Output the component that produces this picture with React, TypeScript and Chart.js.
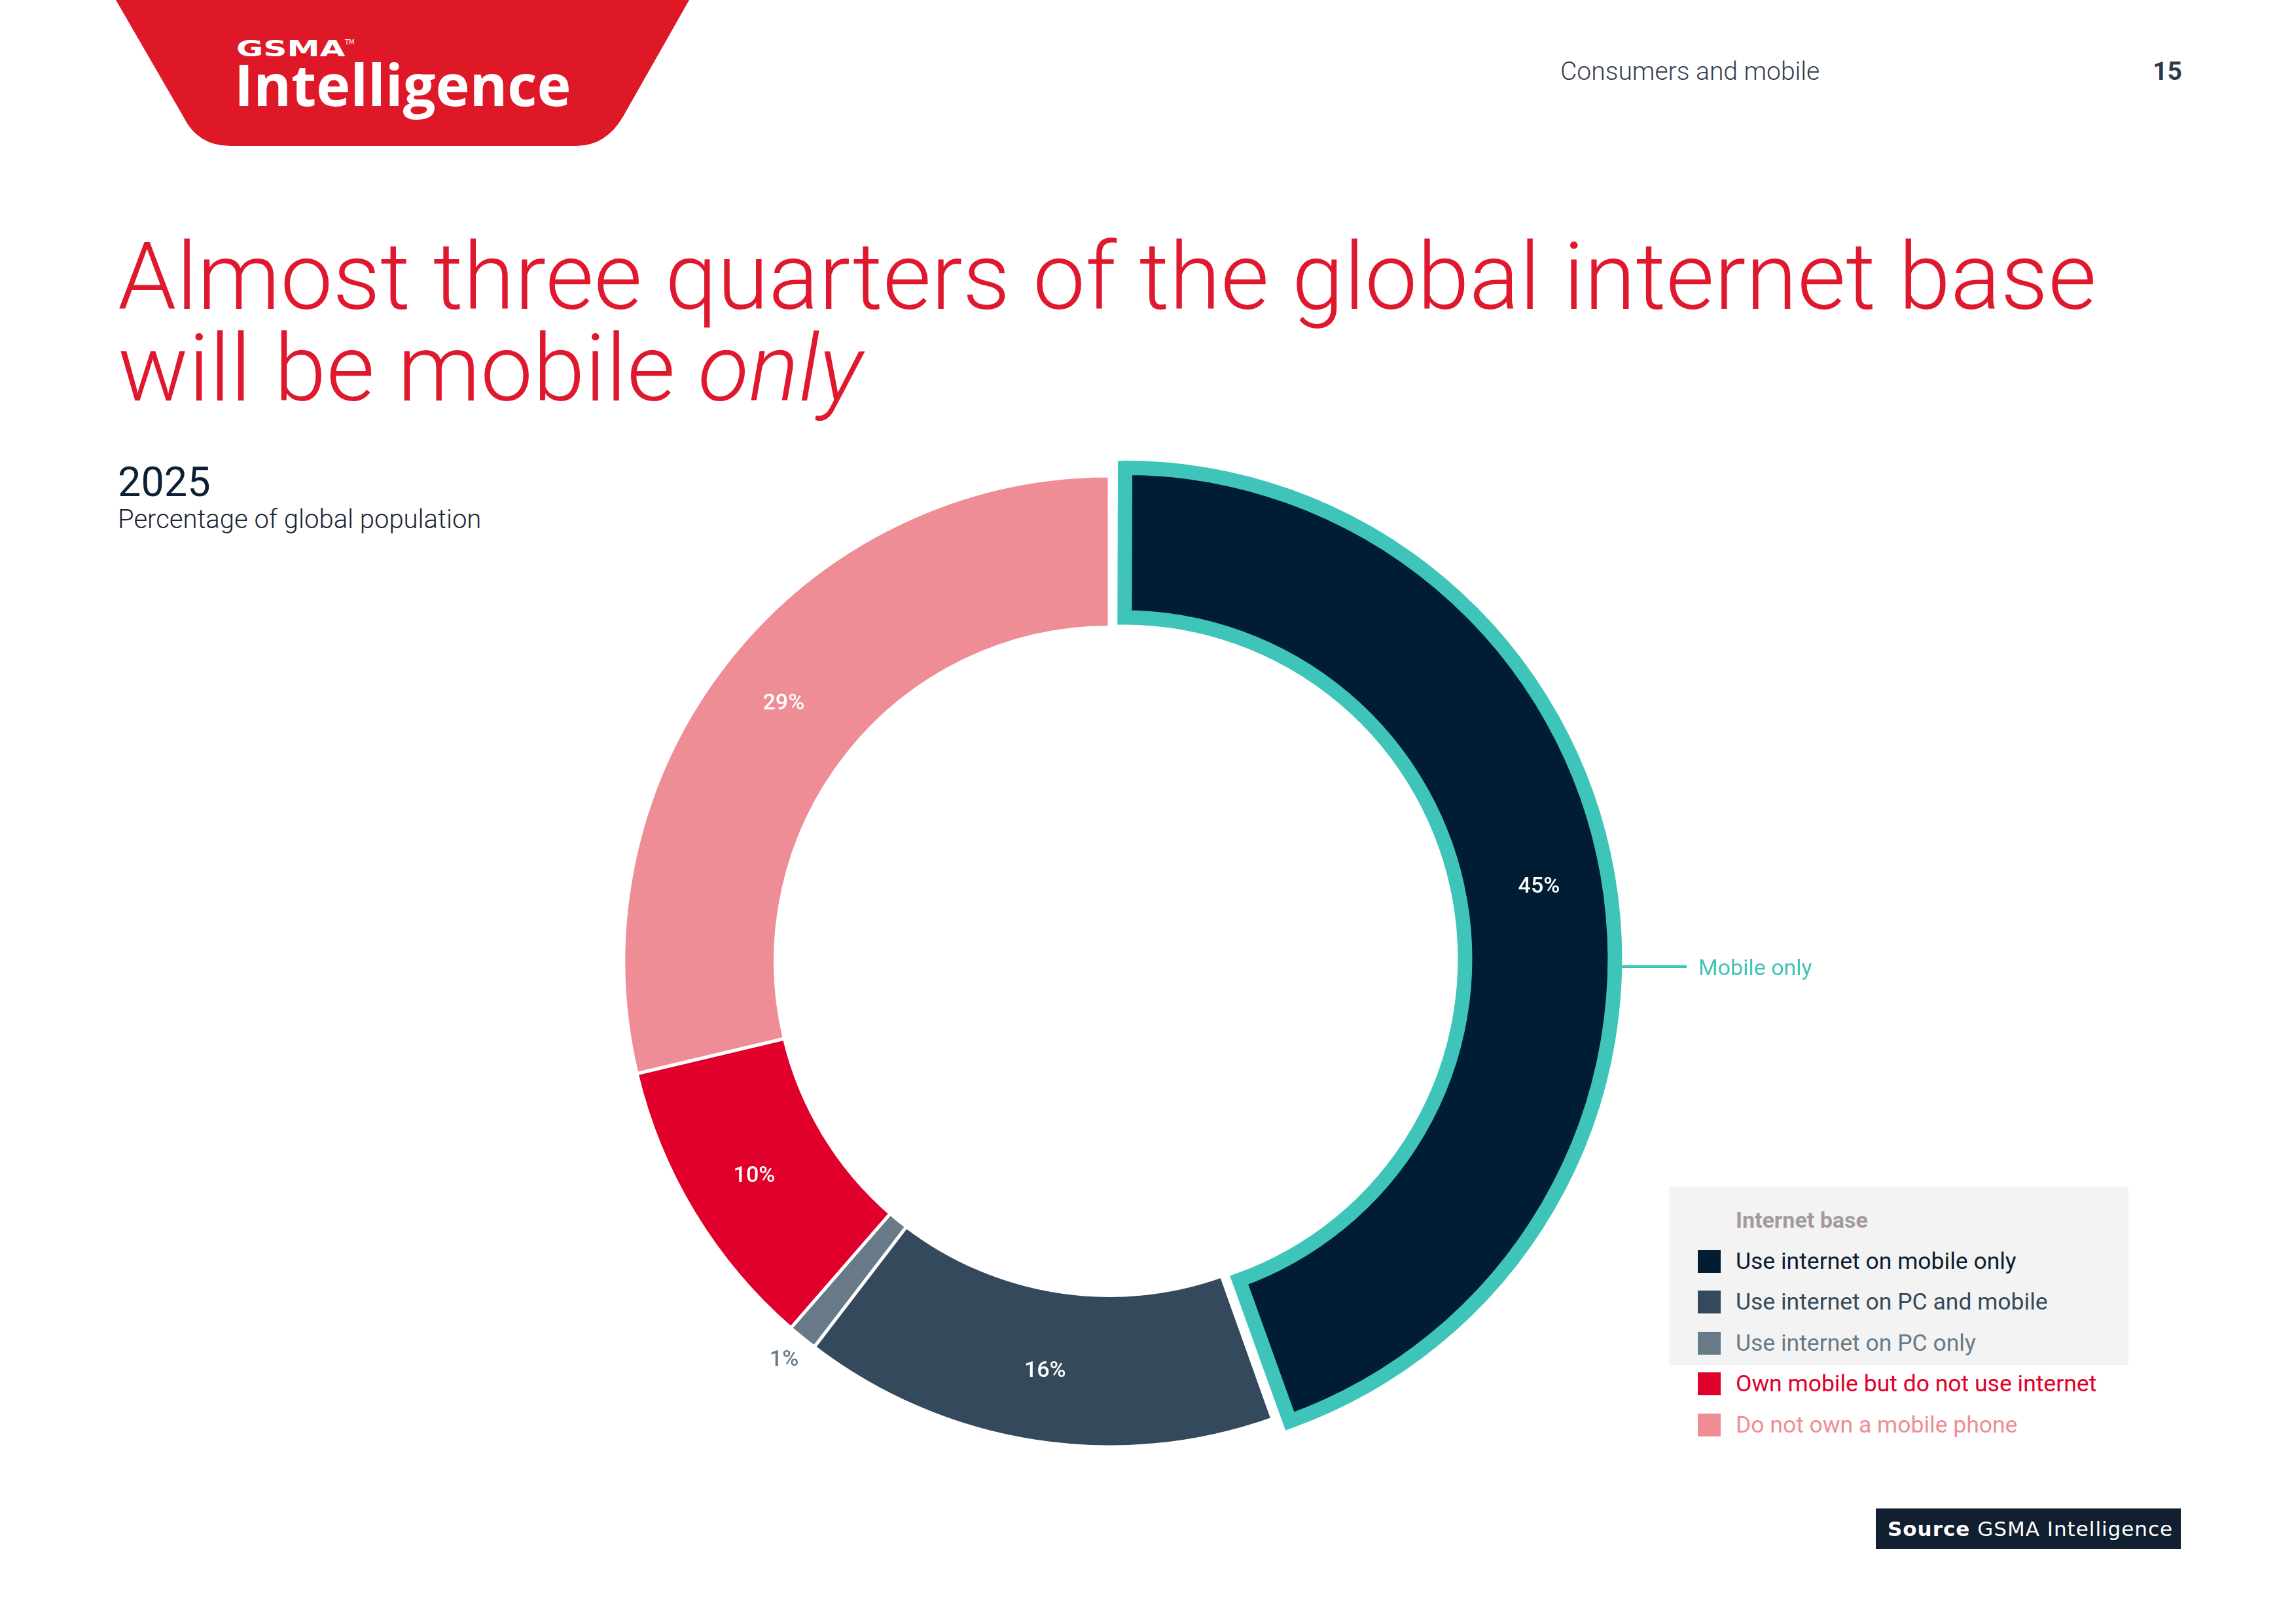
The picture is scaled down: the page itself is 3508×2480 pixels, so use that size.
import React, { useEffect, useRef } from 'react';
import { Chart, registerables } from 'chart.js';

Chart.register(...registerables);

// ---------- data ----------
const categories = [
  'Use internet on mobile only',
  'Use internet on PC and mobile',
  'Use internet on PC only',
  'Own mobile but do not use internet',
  'Do not own a mobile phone',
];
const shares = [45, 16, 1, 10, 29];
const sliceColors = ['#001d33', '#344a5c', '#687a87', '#e0002b', '#ee8d95'];
const legendTextColors = ['#0b1e33', '#344a5c', '#687a87', '#e0002b', '#ee8d95'];
const highlightIndex = 0;
const highlightLabel = 'Mobile only';
const groupTitle = 'Internet base';
const yearLabel = '2025';
const subtitle = 'Percentage of global population';
const titleLine1 = 'Almost three quarters of the global internet base';
const titleLine2 = 'will be mobile ';
const titleItalic = 'only';
const sectionName = 'Consumers and mobile';
const pageNumber = '15';

// ---------- layout constants ----------
const W = 3508;
const H = 2480;
const CX = 1695;
const CY = 1469;
const CAN = 1700;
const TEAL = '#3fc4b9';
const RED = '#e0182d';

const FONT_K: Record<string, number> = { Roboto: 0.842, 'Open Sans': 0.888, 'DejaVu Sans': 0.846 };

function Txt(props: {
  x: number; y: number; size: number; color: string; font?: string; weight?: number;
  align?: 'left' | 'right'; ls?: number; children: React.ReactNode; style?: React.CSSProperties;
}) {
  const font = props.font || 'Roboto';
  const top = props.y - FONT_K[font] * props.size;
  const pos: React.CSSProperties = props.align === 'right' ? { right: W - props.x } : { left: props.x };
  return (
    <div
      style={{
        position: 'absolute', top, ...pos, fontFamily: `"${font}"`, fontSize: props.size,
        lineHeight: `${props.size}px`, color: props.color, fontWeight: props.weight || 400,
        whiteSpace: 'nowrap', letterSpacing: props.ls || 0, ...props.style,
      }}
    >
      {props.children}
    </div>
  );
}

function labelPlugin(indices: number[]) {
  return {
    id: 'sliceLabels',
    afterDatasetsDraw(chart: any) {
      const meta = chart.getDatasetMeta(0);
      const ctx = chart.ctx;
      ctx.save();
      ctx.textAlign = 'center';
      ctx.textBaseline = 'middle';
      meta.data.forEach((arc: any, i: number) => {
        if (!indices.includes(i)) return;
        const p = arc.getProps(['x', 'y', 'startAngle', 'endAngle', 'innerRadius', 'outerRadius', 'circumference'], true);
        const off = (arc.options.offset || 0) / 4;
        const fix = 1 - Math.sin(Math.min(Math.PI, p.circumference));
        const grow = off * fix;
        const h = (p.startAngle + p.endAngle) / 2;
        const small = shares[i] < 3;
        const r = small ? p.outerRadius + grow + 44 : (p.innerRadius + p.outerRadius) / 2 + grow + 8;
        const x = p.x + Math.cos(h) * (off + r);
        const y = p.y + Math.sin(h) * (off + r);
        ctx.font = '500 34px Roboto';
        ctx.fillStyle = small ? sliceColors[i] : '#ffffff';
        ctx.fillText(shares[i] + '%', x, y);
      });
      ctx.restore();
    },
  };
}

function Donut() {
  const refA = useRef<HTMLCanvasElement>(null);
  const refB = useRef<HTMLCanvasElement>(null);
  useEffect(() => {
    const common = {
      responsive: false,
      animation: false as const,
      events: [] as any[],
      layout: { padding: 0 },
      plugins: { legend: { display: false }, tooltip: { enabled: false } },
    };
    const rest = shares.map((_, i) => i).filter((i) => i !== highlightIndex);
    const a = new Chart(refA.current!, {
      type: 'doughnut',
      data: {
        labels: categories,
        datasets: [{
          data: shares,
          backgroundColor: shares.map((_, i) => (i === highlightIndex ? 'rgba(0,0,0,0)' : sliceColors[i])),
          borderColor: '#ffffff',
          borderWidth: shares.map((_, i) => (i === highlightIndex ? 0 : 5)),
        }],
      },
      options: { ...common, radius: 742, cutout: '68.8%' } as any,
      plugins: [labelPlugin(rest)],
    });
    const b = new Chart(refB.current!, {
      type: 'doughnut',
      data: {
        labels: categories,
        datasets: [{
          data: shares,
          backgroundColor: shares.map((_, i) => (i === highlightIndex ? sliceColors[i] : 'rgba(0,0,0,0)')),
          borderColor: TEAL,
          borderWidth: shares.map((_, i) => (i === highlightIndex ? 22 : 0)),
          borderAlign: 'center',
          borderJoinStyle: 'miter',
          offset: shares.map((_, i) => (i === highlightIndex ? 88 : 0)),
        } as any],
      },
      options: { ...common, radius: 736, cutout: '68.9%' } as any,
      plugins: [labelPlugin([highlightIndex])],
    });
    return () => { a.destroy(); b.destroy(); };
  }, []);
  const st: React.CSSProperties = { position: 'absolute', left: CX - CAN / 2, top: CY - CAN / 2, width: CAN, height: CAN };
  return (
    <>
      <canvas ref={refA} width={CAN} height={CAN} style={st} />
      <canvas ref={refB} width={CAN} height={CAN} style={st} />
    </>
  );
}

export default function App() {
  const rowY = [1927, 1989.5, 2052, 2114.5, 2177];
  return (
    <div style={{ position: 'absolute', left: 0, top: 0, width: W, height: H, background: '#ffffff', overflow: 'hidden', fontFamily: 'Roboto' }}>
      {/* logo */}
      <svg style={{ position: 'absolute', left: 0, top: 0 }} width={1200} height={240}>
        <path d="M177,0 L1053,0 L952,178 Q926,223 880,223 L352,223 Q302,223 280,178 Z" fill="#df1828" />
      </svg>
      <Txt x={361} y={86} size={34} color="#ffffff" font="DejaVu Sans" weight={700}>
        <span style={{ display: 'inline-block', transform: 'scaleX(1.48)', transformOrigin: 'left' }}>GSMA</span>
      </Txt>
      <Txt x={527} y={68} size={10} color="#ffffff" font="DejaVu Sans">TM</Txt>
      <Txt x={358} y={162} size={88} color="#ffffff" font="Open Sans" weight={700}>Intelligence</Txt>

      {/* header */}
      <Txt x={2384} y={123} size={39} color="#343e4e" weight={300}>{sectionName}</Txt>
      <Txt x={3334} y={123} size={39} color="#2e3a4c" weight={700} align="right">{pageNumber}</Txt>

      {/* title */}
      <Txt x={180} y={472} size={143} color={RED} weight={300}>{titleLine1}</Txt>
      <Txt x={180} y={612} size={143} color={RED} weight={300}>
        {titleLine2}<span style={{ fontStyle: 'italic' }}>{titleItalic}</span>
      </Txt>

      <Txt x={180} y={758} size={63} color="#0d2033">{yearLabel}</Txt>
      <Txt x={180} y={808} size={40} color="#1a2535" weight={300}>{subtitle}</Txt>

      <Donut />

      {/* highlight annotation */}
      <div style={{ position: 'absolute', left: 2476, top: 1475, width: 101, height: 4, background: TEAL }} />
      <Txt x={2595} y={1490} size={34} color={TEAL}>{highlightLabel}</Txt>

      {/* legend */}
      <div style={{ position: 'absolute', left: 2550, top: 1813, width: 702, height: 273, background: '#f3f3f3' }} />
      <Txt x={2652} y={1876} size={34} color="#a39b9b" weight={700}>{groupTitle}</Txt>
      {categories.map((c, i) => (
        <React.Fragment key={c}>
          <div style={{ position: 'absolute', left: 2594, top: rowY[i] - 17.5, width: 35, height: 35, background: sliceColors[i] }} />
          <Txt x={2652} y={rowY[i] + 12.4} size={35.5} color={legendTextColors[i]}>{c}</Txt>
        </React.Fragment>
      ))}

      {/* source */}
      <div style={{ position: 'absolute', left: 2866, top: 2305, width: 466, height: 62, background: '#111f30' }} />
      <Txt x={2884} y={2347} size={31} color="#ffffff" font="DejaVu Sans" ls={1}>
        <span style={{ fontWeight: 700 }}>Source</span> GSMA Intelligence
      </Txt>
    </div>
  );
}
